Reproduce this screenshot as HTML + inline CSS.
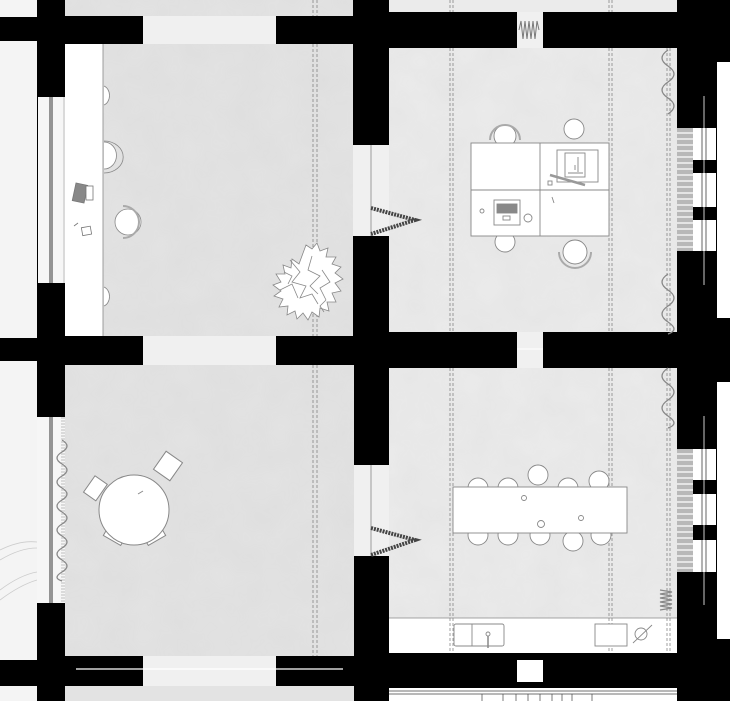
<!DOCTYPE html>
<html><head><meta charset="utf-8"><style>
html,body{margin:0;padding:0;background:#000;}
svg{display:block;}
</style></head><body>
<svg width="730" height="701" viewBox="0 0 730 701" xmlns="http://www.w3.org/2000/svg">
<defs>
<filter id="tex" x="0" y="0" width="100%" height="100%">
<feTurbulence type="fractalNoise" baseFrequency="0.03" numOctaves="3" seed="4"/>
<feColorMatrix values="0 0 0 0 0.5  0 0 0 0 0.5  0 0 0 0 0.5  0 0 0 0.12 0"/>
<feComposite in2="SourceGraphic" operator="in"/>
</filter>
</defs>
<rect width="730" height="701" fill="#000"/>
<rect x="0" y="0" width="37" height="17" fill="#f4f4f4"/>
<rect x="0" y="41" width="37" height="297" fill="#f4f4f4"/>
<rect x="0" y="361" width="37" height="299" fill="#f4f4f4"/>
<rect x="0" y="686" width="37" height="15" fill="#f4f4f4"/>
<path d="M0,550 Q20,540 37,542 M0,560 Q20,548 37,548 M0,590 Q20,575 37,572 M0,600 Q20,585 37,580" stroke="#ccc" fill="none" stroke-width="0.8"/>
<rect x="717" y="62" width="13" height="256" fill="#fff"/>
<rect x="717" y="382" width="13" height="257" fill="#fff"/>

<g fill="#e3e3e3">
<rect x="65" y="0" width="288" height="16"/>
<rect x="65" y="44" width="288" height="292"/>
<rect x="65" y="365" width="289" height="291"/>
<rect x="65" y="686" width="289" height="15"/>
</g>
<g fill="#ebebeb">
<rect x="389" y="0" width="288" height="12"/>
<rect x="389" y="48" width="288" height="284"/>
<rect x="389" y="368" width="288" height="285"/>
</g>
<g filter="url(#tex)">
<rect x="65" y="0" width="288" height="16" fill="#fff"/>
<rect x="65" y="44" width="288" height="292" fill="#fff"/>
<rect x="65" y="365" width="289" height="291" fill="#fff"/>
<rect x="389" y="48" width="288" height="284" fill="#fff"/>
<rect x="389" y="368" width="288" height="285" fill="#fff"/>
</g>
<g fill="#f0f0f0">
<rect x="143" y="16" width="133" height="28"/>
<rect x="143" y="336" width="133" height="29"/>
<rect x="143" y="656" width="133" height="30"/>
<rect x="517" y="12" width="26" height="36"/>
<rect x="517" y="332" width="26" height="36"/>
<rect x="353" y="145" width="36" height="91"/>
<rect x="354" y="465" width="35" height="91"/>
</g>
<rect x="517" y="660" width="26" height="22" fill="#fff"/>
<rect x="389" y="688" width="288" height="13" fill="#fff"/>
<path d="M389,691 H677 M389,694 H677 M482,694V701 M503,694V701 M516,694V701 M528,694V701 M540,694V701 M552,694V701 M562,694V701 M572,694V701 M592,694V701" stroke="#444" stroke-width="0.7"/>
<path d="M76,669 H343" stroke="#fff" stroke-width="1.2"/>
<path d="M517,349 H543" stroke="#fff" stroke-width="1"/>
<path d="M519,30 l2,-9 l2,18 l2,-18 l2,18 l2,-18 l2,18 l2,-18 l2,18 l2,-18 l2,9" stroke="#777" fill="none" stroke-width="1"/>
<path d="M371,145V236 M371,465V556" stroke="#888" stroke-width="0.8"/>
<path d="M371,208 L415,220 L371,234 M371,528 L415,540 L371,555" stroke="#444" stroke-width="4" fill="none" stroke-dasharray="2 1"/>

<rect x="65" y="44" width="38" height="292" fill="#fff"/>
<path d="M103,44V336" stroke="#888" stroke-width="0.8"/>
<rect x="38" y="97" width="27" height="186" fill="#f6f6f6"/>
<path d="M50,97V283 M52,97V283" stroke="#000" stroke-width="0.8"/>
<path d="M64,97V283" stroke="#999" stroke-width="0.6"/>
<rect x="37" y="417" width="28" height="186" fill="#f6f6f6"/>
<path d="M50,417V603 M52,417V603" stroke="#000" stroke-width="0.8"/>
<path d="M62,417V603 M64,417V603" stroke="#999" stroke-width="0.6" stroke-dasharray="2 1"/>

<g stroke="#777" stroke-width="0.7" stroke-dasharray="3 2" fill="none">
<path d="M313,0V16 M317,0V16 M313,44V336 M317,44V336 M313,365V656 M317,365V656"/>
<path d="M450,0V12 M453,0V12 M609,0V12 M612,0V12 M450,48V332 M453,48V332 M609,48V332 M612,48V332"/>
<path d="M450,368V653 M453,368V653 M609,368V653 M612,368V653"/>
<path d="M667,48V332 M670,48V332 M667,368V653 M670,368V653"/>
</g>

<g fill="#fff" stroke="#888" stroke-width="0.8">
<path d="M104,86 a8,10 0 0 1 0,19"/>
<path d="M104,142 a12,13 0 0 1 0,27"/>
<path d="M104,141 a18,15 0 0 1 0,32" fill="none"/>
<circle cx="128" cy="222" r="13"/>
<path d="M123,206 a16,16 0 0 1 0,32" fill="none" stroke-width="2" stroke="#aaa"/>
<path d="M104,287 a8,10 0 0 1 0,19"/>
</g>
<g stroke="#777" stroke-width="0.8">
<rect x="74" y="184" width="12" height="18" fill="#888" transform="rotate(12 80 193)"/>
<rect x="86" y="186" width="7" height="14" fill="#fff"/>
<rect x="82" y="227" width="9" height="8" fill="#fff" transform="rotate(-10 86 231)"/>
<path d="M74,226 l4,-3"/>
</g>
<g fill="#fff" stroke="#888" stroke-width="0.8">
<path d="M306,245 l6,4 l5,-6 l3,8 l8,-3 l-2,9 l10,0 l-4,7 l9,3 l-6,6 l8,6 l-8,4 l6,8 l-9,2 l4,9 l-9,0 l2,9 l-9,-3 l-1,9 l-7,-5 l-4,8 l-5,-7 l-6,6 l-2,-8 l-8,4 l1,-9 l-9,1 l4,-8 l-9,-3 l7,-5 l-8,-6 l8,-3 l-5,-8 l9,0 l-2,-9 l8,3 l1,-9 l7,5z"/>
<path d="M290,260 l10,12 l-8,10 l14,4 l-6,12 l12,-4 l6,10 M312,256 l-4,14 l12,6 l-10,10 l8,8 M280,290 l12,-6 l6,14 M322,270 l8,12 l-10,6 l6,12 M284,272 l8,4 l-4,8 M326,300 l-6,6 l4,6" fill="none"/>
</g>

<g stroke="#888" stroke-width="1.3" fill="none">
<path d="M668,50 q-12,8 0,16 t0,16 t0,16 t0,16"/>
<path d="M668,274 q-12,8 0,16 t0,16 t0,16 t0,12"/>
<path d="M668,368 q-12,8 0,16 t0,16 t0,16 t0,12"/>
<path d="M62,440 q10,6 0,12 t0,12 t0,12 t0,12 t0,12 t0,12 t0,12 t0,12 t0,12 t0,12 t0,12 t0,9"/>
<path d="M660,590 l12,2 l-12,2 l12,2 l-12,2 l12,2 l-12,2 l12,2 l-12,2 l12,2 l-12,2"/>
</g>
<g>
<rect x="677" y="128" width="16" height="123" fill="#b8b8b8"/>
<rect x="677" y="449" width="16" height="123" fill="#b8b8b8"/>
<g stroke="#fff" stroke-width="1.2">
<path d="M677,133H693 M677,139H693 M677,145H693 M677,151H693 M677,157H693 M677,163H693 M677,169H693 M677,175H693 M677,181H693 M677,187H693 M677,193H693 M677,199H693 M677,205H693 M677,211H693 M677,217H693 M677,223H693 M677,229H693 M677,235H693 M677,241H693 M677,247H693"/>
<path d="M677,454H693 M677,460H693 M677,466H693 M677,472H693 M677,478H693 M677,484H693 M677,490H693 M677,496H693 M677,502H693 M677,508H693 M677,514H693 M677,520H693 M677,526H693 M677,532H693 M677,538H693 M677,544H693 M677,550H693 M677,556H693 M677,562H693 M677,568H693"/>
</g>
<g fill="#fff">
<rect x="693" y="128" width="23" height="32"/><rect x="693" y="173" width="23" height="34"/><rect x="693" y="220" width="23" height="31"/>
<rect x="693" y="449" width="23" height="31"/><rect x="693" y="494" width="23" height="31"/><rect x="693" y="540" width="23" height="32"/>
</g>
<path d="M702,128V251 M706,128V251 M702,449V572 M706,449V572" stroke="#000" stroke-width="0.6"/>
<path d="M704,96V285 M704,416V605" stroke="#fff" stroke-width="0.8"/>
</g>

<g stroke="#888" stroke-width="0.9" fill="#fff">
<circle cx="505" cy="136" r="11"/>
<path d="M490,140 a15,15 0 0 1 30,0" fill="none" stroke-width="2" stroke="#aaa"/>
<circle cx="574" cy="129" r="10"/>
<circle cx="505" cy="242" r="10"/>
<circle cx="575" cy="252" r="12"/>
<path d="M559,252 a16,16 0 0 0 32,0" fill="none" stroke-width="2" stroke="#aaa"/>
<rect x="471" y="143" width="138" height="93"/>
<path d="M540,143V236 M471,190H609" fill="none"/>
<rect x="557" y="150" width="41" height="32"/>
<rect x="565" y="153" width="20" height="24"/>
<path d="M568,173H583 M578,157V172 M575,165V170" fill="none"/>
<path d="M550,175 L585,185" stroke-width="2.5" stroke="#999"/>
<rect x="548" y="181" width="4" height="4"/>
<rect x="494" y="200" width="26" height="25"/>
<rect x="497" y="204" width="20" height="9" fill="#888"/>
<rect x="503" y="216" width="7" height="4"/>
<circle cx="528" cy="218" r="4"/>
<circle cx="482" cy="211" r="2"/>
<path d="M552,197 l2,6" fill="none"/>
</g>

<g stroke="#888" stroke-width="1" fill="#fff">
<rect x="88" y="478" width="15" height="20" transform="rotate(35 95 488)"/>
<rect x="158" y="455" width="20" height="22" transform="rotate(35 168 466)"/>
<rect x="104" y="533" width="20" height="8" transform="rotate(30 114 537)"/>
<rect x="145" y="533" width="20" height="8" transform="rotate(-30 155 537)"/>
<circle cx="134" cy="510" r="35"/>
<path d="M138,494 l5,-3" fill="none"/>
</g>

<rect x="389" y="618" width="288" height="35" fill="#fff"/>
<path d="M389,618H677" stroke="#888" stroke-width="0.8"/>
<g stroke="#777" stroke-width="0.7" stroke-dasharray="3 2" fill="none">
<path d="M450,618V653 M453,618V653 M609,618V653 M612,618V653 M667,618V653 M670,618V653"/>
</g>
<g stroke="#888" stroke-width="0.9" fill="#fff">
<circle cx="478" cy="488" r="10"/><circle cx="508" cy="488" r="10"/><circle cx="538" cy="475" r="10"/><circle cx="568" cy="488" r="10"/><circle cx="599" cy="481" r="10"/>
<circle cx="478" cy="535" r="10"/><circle cx="508" cy="535" r="10"/><circle cx="540" cy="535" r="10"/><circle cx="573" cy="541" r="10"/><circle cx="601" cy="535" r="10"/>
<rect x="453" y="487" width="174" height="46"/>
<circle cx="524" cy="498" r="2.5"/><circle cx="581" cy="518" r="2.5"/><circle cx="541" cy="524" r="3.5"/>
<rect x="454" y="624" width="50" height="22" rx="2"/>
<path d="M472,624V646" fill="none"/>
<circle cx="488" cy="634" r="2"/>
<path d="M488,636V648" fill="none" stroke-width="1.5"/>
<rect x="595" y="624" width="32" height="22"/>
<circle cx="641" cy="634" r="6" fill="none"/>
<path d="M633,643 L652,625" fill="none"/>
</g>
</svg>
</body></html>
